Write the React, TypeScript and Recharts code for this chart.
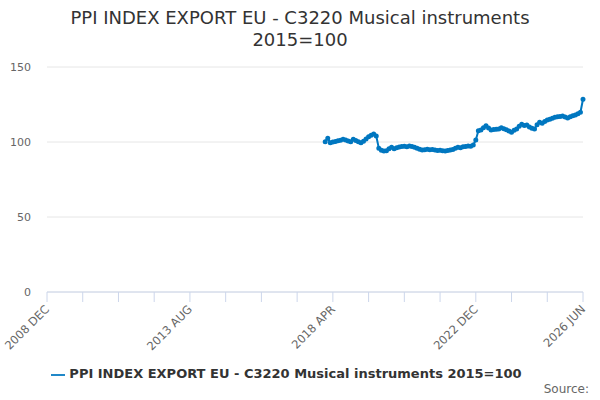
import React from "react";
import { LineChart, Line, XAxis, YAxis, CartesianGrid, Legend } from "recharts";

const startMonth = 109; // months after 2008 DEC (2018 JAN)
const values = [100.2,102.5,99.5,100,100.4,100.8,101.2,101.8,101.3,100.6,100.2,101.8,101,100.2,99.5,100.5,102,103.5,104.5,105.3,104,95.8,94.5,94,94.2,95.5,96.5,95.5,96.2,96.6,97,97.2,96.8,97.3,97,96.5,95.8,95.2,94.7,94.9,95.1,94.8,95,94.6,94.3,94.5,94.2,94,94.3,94.7,95,95.8,96.5,96.2,96.8,97,97.4,97.1,98,101.3,107.5,108,109.5,110.9,109.3,108,108.3,108.5,108.7,109.5,108.8,108.1,107.4,106.5,107.8,108.7,110.5,111.8,111,111.3,110,109.2,108.7,111.5,113.1,112.5,113.6,114.7,115.2,115.8,116.5,116.8,117,117.3,116.7,116,116.8,117.5,118,118.8,119.8,128.5];
const xTicks = [0,14,28,42,56,70,84,98,112,126,140,154,168,182,196,210];
const labelTicks = [0,56,112,168,210];
const yTicks = [0,50,100,150];
const seriesName = "PPI INDEX EXPORT EU - C3220 Musical instruments 2015=100";
const MONTHS = ["JAN","FEB","MAR","APR","MAY","JUN","JUL","AUG","SEP","OCT","NOV","DEC"];

const data = values.map((v, i) => ({ m: startMonth + i, v }));

const monthLabel = (m: number) => {
  const t = 11 + m;
  return `${2008 + Math.floor(t / 12)} ${MONTHS[t % 12]}`;
};

const XTick = (props: any) => {
  const { x, y, payload } = props;
  const show = labelTicks.includes(payload.value);
  return (
    <g>
      <line x1={x} y1={y - 8} x2={x} y2={y + 2} stroke="#ccd6eb" />
      {show && (
        <text x={x + 3} y={y + 10} textAnchor="end" fill="#666" fontSize={11.5}
          transform={`rotate(-45 ${x + 3} ${y + 10})`}>{monthLabel(payload.value)}</text>
      )}
    </g>
  );
};

export default function App() {
  return (
    <div style={{ position: "absolute", left: 0, top: 0, width: 600, height: 400, fontFamily: "'DejaVu Sans', sans-serif", background: "#fff" }}>
      <div style={{ position: "absolute", top: 7, width: 600, textAlign: "center", fontSize: 18, color: "#333", lineHeight: "22px" }}>
        PPI INDEX EXPORT EU - C3220 Musical instruments<br />2015=100
      </div>
      <LineChart width={600} height={400} data={data} margin={{ top: 67, right: 17, bottom: 18, left: 0 }}>
        <CartesianGrid vertical={false} stroke="#e6e6e6" />
        <XAxis dataKey="m" type="number" domain={[0, 210]} ticks={xTicks} interval={0}
          height={60} axisLine={{ stroke: "#ccd6eb" }} tickLine={false} tick={<XTick />} />
        <YAxis domain={[0, 150]} ticks={yTicks} width={47} axisLine={false} tickLine={false}
          tick={{ fill: "#666", fontSize: 11, dx: -8 }} />
        <Legend verticalAlign="bottom" height={30} wrapperStyle={{ bottom: 4, fontSize: 13, fontWeight: "bold" }}
          iconType="plainline" formatter={(v: any) => <span style={{ color: "#333" }}>{v}</span>} />
        <Line dataKey="v" name={seriesName} stroke="#0077c0" strokeWidth={2}
          dot={{ r: 1.5, fill: "#0077c0", stroke: "#0077c0" }} isAnimationActive={false} />
      </LineChart>
      <div style={{ position: "absolute", right: 11, top: 382, fontSize: 12, color: "#666" }}>Source:</div>
    </div>
  );
}
